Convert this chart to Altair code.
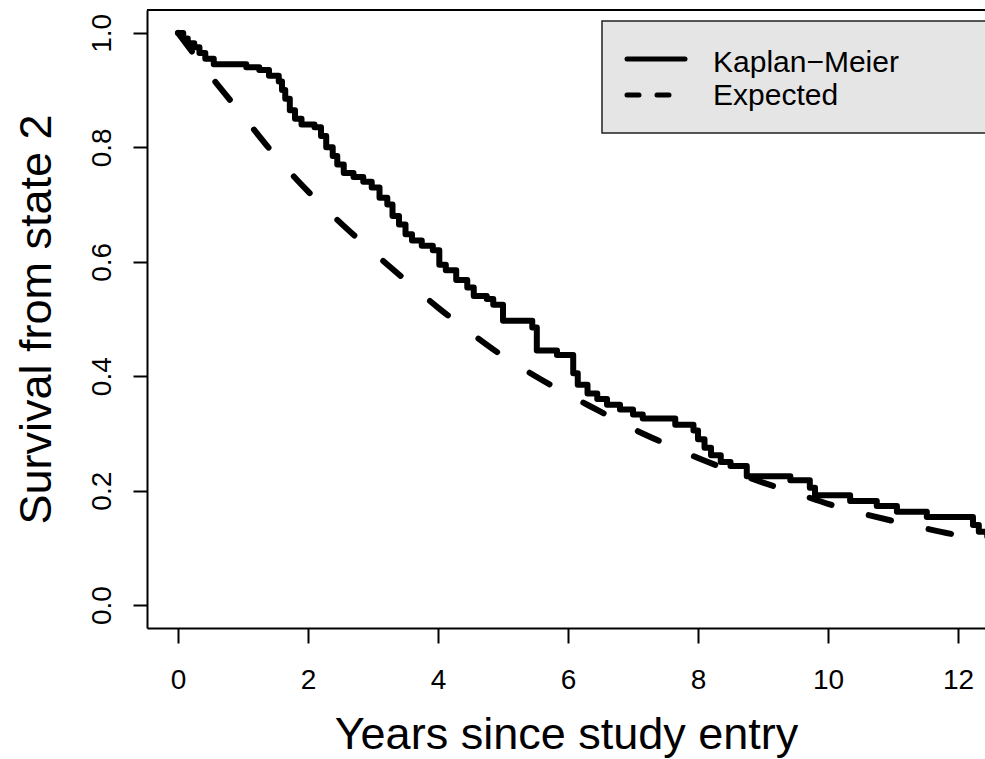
import altair as alt
import pandas as pd

# ---- data ----
km_time = [0.00, 0.08, 0.15, 0.25, 0.33, 0.42, 0.55, 1.05, 1.25, 1.40, 1.55, 1.60,
           1.65, 1.72, 1.80, 1.90, 2.10, 2.20, 2.28, 2.38, 2.45, 2.55, 2.70, 2.85,
           2.98, 3.10, 3.22, 3.30, 3.40, 3.50, 3.60, 3.75, 3.92, 4.02, 4.12, 4.28,
           4.45, 4.55, 4.75, 4.85, 5.00, 5.45, 5.52, 5.83, 6.08, 6.15, 6.30, 6.45,
           6.60, 6.80, 7.00, 7.15, 7.65, 7.93, 8.00, 8.10, 8.20, 8.35, 8.50, 8.75,
           9.42, 9.72, 9.80, 10.34, 10.75, 11.06, 11.52, 12.23, 12.32, 12.45]
km_surv = [1.000, 0.990, 0.982, 0.975, 0.965, 0.955, 0.945, 0.940, 0.935, 0.925, 0.915, 0.900,
           0.885, 0.865, 0.850, 0.840, 0.835, 0.820, 0.800, 0.785, 0.770, 0.755, 0.748, 0.740,
           0.730, 0.712, 0.700, 0.680, 0.665, 0.648, 0.637, 0.628, 0.620, 0.595, 0.585, 0.568,
           0.555, 0.540, 0.535, 0.525, 0.497, 0.485, 0.445, 0.437, 0.405, 0.385, 0.370, 0.360,
           0.350, 0.342, 0.333, 0.326, 0.315, 0.305, 0.290, 0.275, 0.262, 0.250, 0.243, 0.225,
           0.218, 0.205, 0.192, 0.182, 0.173, 0.163, 0.154, 0.140, 0.128, 0.120]

exp_time = [0.0, 0.5, 1.0, 1.5, 2.0, 2.5, 3.0, 3.5, 4.0, 4.5, 5.0, 5.5, 6.0,
            6.5, 7.0, 7.5, 8.0, 8.5, 9.0, 9.5, 10.0, 10.5, 11.0, 11.5, 12.0, 12.5]
exp_surv = [1.000, 0.925, 0.855, 0.785, 0.723, 0.668, 0.617, 0.568, 0.520, 0.476, 0.435, 0.400, 0.368,
            0.338, 0.308, 0.282, 0.257, 0.235, 0.214, 0.196, 0.177, 0.161, 0.147, 0.134, 0.122, 0.112]

x_ticks = [0, 2, 4, 6, 8, 10, 12]
y_ticks = [0.0, 0.2, 0.4, 0.6, 0.8, 1.0]
legend_labels = ["Kaplan\u2212Meier", "Expected"]
x_title = "Years since study entry"
y_title = "Survival from state 2"

FONT = "Liberation Sans"
W, H = 838, 618

x_scale = alt.Scale(domain=[-0.477, 12.415], nice=False, zero=False)
y_scale = alt.Scale(domain=[-0.04, 1.04], nice=False, zero=False)

x_axis = alt.Axis(
    values=x_ticks, format="d", title=x_title, grid=False,
    domainColor="black", domainWidth=2, tickColor="black", tickWidth=2, tickSize=15,
    labelFont=FONT, labelFontSize=28, labelColor="black", labelPadding=45,
    labelBaseline="alphabetic", labelFlush=False, labelOverlap=False,
    titleFont=FONT, titleFontSize=45, titleFontWeight="normal", titleColor="black",
    titleY=120, titleBaseline="alphabetic",
)
y_axis = alt.Axis(
    values=y_ticks, format=".1f", title=y_title, grid=False,
    domainColor="black", domainWidth=2, tickColor="black", tickWidth=2, tickSize=14,
    labelFont=FONT, labelFontSize=28, labelColor="black", labelPadding=23,
    labelAngle=270, labelAlign="center", labelBaseline="alphabetic",
    labelFlush=False, labelOverlap=False,
    titleFont=FONT, titleFontSize=45, titleFontWeight="normal", titleColor="black",
    titleAngle=270, titleX=-97, titleY=H / 2, titleAlign="center", titleBaseline="alphabetic",
)

km_df = pd.DataFrame({"t": km_time, "s": km_surv})
exp_df = pd.DataFrame({"t": exp_time, "s": exp_surv})

km = alt.Chart(km_df).mark_line(
    color="black", strokeWidth=6, interpolate="step-after", clip=True,
    strokeJoin="round", strokeCap="round"
).encode(
    x=alt.X("t:Q", scale=x_scale, axis=x_axis),
    y=alt.Y("s:Q", scale=y_scale, axis=y_axis),
)

exp = alt.Chart(exp_df).mark_line(
    color="black", strokeWidth=6, interpolate="monotone", clip=True,
    strokeDash=[23, 38.5], strokeCap="round"
).encode(
    x=alt.X("t:Q", scale=x_scale),
    y=alt.Y("s:Q", scale=y_scale),
)

one = pd.DataFrame({"k": [0]})

top_border = alt.Chart(one).mark_rule(color="black", strokeWidth=2).encode(
    x=alt.value(0), x2=alt.value(W), y=alt.value(0)
)

leg_box = alt.Chart(one).mark_rect(
    fill="#e5e5e5", stroke="#222222", strokeWidth=1.5, clip=True
).encode(
    x=alt.value(455), x2=alt.value(W + 40), y=alt.value(11), y2=alt.value(123)
)

leg_solid = alt.Chart(one).mark_rule(color="black", strokeWidth=5, strokeCap="round").encode(
    x=alt.value(480), x2=alt.value(538), y=alt.value(49)
)
leg_dash = alt.Chart(one).mark_rule(
    color="black", strokeWidth=5, strokeCap="round", strokeDash=[12, 18]
).encode(
    x=alt.value(480), x2=alt.value(538), y=alt.value(85)
)

leg_text1 = alt.Chart(pd.DataFrame({"label": [legend_labels[0]]})).mark_text(
    align="left", baseline="alphabetic", font=FONT, fontSize=30, color="black"
).encode(x=alt.value(566), y=alt.value(61.7), text="label:N")
leg_text2 = alt.Chart(pd.DataFrame({"label": [legend_labels[1]]})).mark_text(
    align="left", baseline="alphabetic", font=FONT, fontSize=30, color="black"
).encode(x=alt.value(566), y=alt.value(94.7), text="label:N")

chart = alt.layer(
    km, exp, top_border, leg_box, leg_solid, leg_dash, leg_text1, leg_text2
).properties(
    width=W, height=H,
    padding={"left": 147, "top": 10, "right": 0, "bottom": 759 - 10 - H},
    autosize=alt.AutoSizeParams(type="none"),
    background="white",
).configure_view(stroke=None)

chart.save("out.html", embed_options={"renderer": "svg", "actions": False})
